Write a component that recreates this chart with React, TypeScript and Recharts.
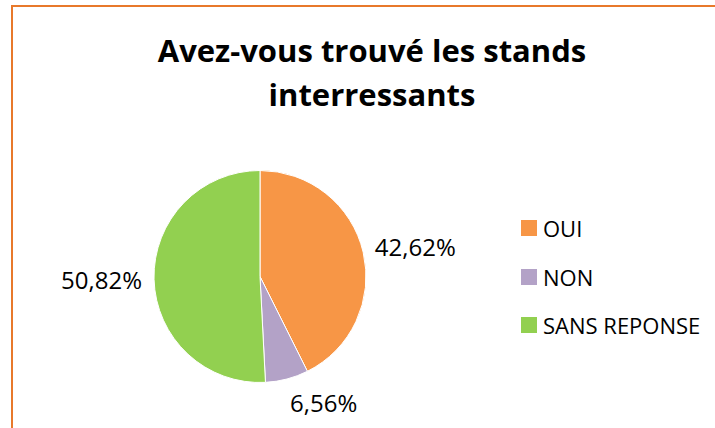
import React from 'react';
import { PieChart, Pie, Cell, Legend } from 'recharts';

const categories = ['OUI', 'NON', 'SANS REPONSE'];
const percents = [42.62, 6.56, 50.82];
const colors = ['#F79646', '#B3A2C7', '#92D050'];
const titleLines = ['Avez-vous trouvé les stands', 'interressants'];

const data = categories.map((name, i) => ({ name, value: percents[i] }));

const RAD = Math.PI / 180;
const FONT = '"Open Sans", "Noto Sans", sans-serif';

function renderLabel(props: any) {
  const { cx, cy, midAngle, outerRadius, value } = props;
  const r = outerRadius + 12;
  const c = Math.cos(-midAngle * RAD);
  const s = Math.sin(-midAngle * RAD);
  const x = cx + r * c;
  const y = cy + r * s + s * 12;
  return (
    <text
      x={x}
      y={y}
      textAnchor={x > cx ? 'start' : 'end'}
      dominantBaseline="central"
      fontFamily={FONT}
      fontSize={24}
      fill="#000"
    >
      {value.toFixed(2).replace('.', ',') + '%'}
    </text>
  );
}

function renderLegend(props: any) {
  // keep the slice order, not alphabetical
  const payload = [...(props.payload || [])].sort(
    (a: any, b: any) => categories.indexOf(a.value) - categories.indexOf(b.value)
  );
  return (
    <div style={{ fontFamily: FONT }}>
      {payload.map((entry: any) => (
        <div key={entry.value} style={{ height: 48.5, display: 'flex', alignItems: 'center' }}>
          <span style={{ width: 16, height: 16, background: entry.color, display: 'inline-block', marginRight: 6 }} />
          <span style={{ fontSize: 22, color: '#000' }}>{entry.value}</span>
        </div>
      ))}
    </div>
  );
}

export default function App() {
  return (
    <div style={{ position: 'absolute', left: 0, top: 0, width: 715, height: 428, overflow: 'hidden', background: '#fff' }}>
      <div
        style={{
          position: 'absolute',
          left: 11,
          top: 5,
          width: 800,
          height: 500,
          borderTop: '2px solid #E8792B',
          borderLeft: '2px solid #E8792B',
        }}
      />
      <div
        style={{
          position: 'absolute',
          left: 0,
          top: 28,
          width: 744,
          textAlign: 'center',
          fontFamily: FONT,
          fontWeight: 700,
          fontSize: 31,
          lineHeight: '44px',
          color: '#000',
        }}
      >
        {titleLines.map((t) => (
          <div key={t}>{t}</div>
        ))}
      </div>
      <div style={{ position: 'absolute', left: 0, top: 0 }}>
        <PieChart width={715} height={428} margin={{ top: 0, right: 0, bottom: 0, left: 0 }}>
          <Pie
            data={data}
            dataKey="value"
            nameKey="name"
            cx={260}
            cy={276.5}
            outerRadius={106}
            startAngle={90}
            endAngle={-270}
            stroke="#fff"
            strokeWidth={1}
            label={renderLabel}
            labelLine={false}
            isAnimationActive={false}
          >
            {data.map((d, i) => (
              <Cell key={d.name} fill={colors[i]} />
            ))}
          </Pie>
          <Legend
            content={renderLegend}
            wrapperStyle={{ position: 'absolute', left: 521, top: 204, width: 200 }}
          />
        </PieChart>
      </div>
    </div>
  );
}
